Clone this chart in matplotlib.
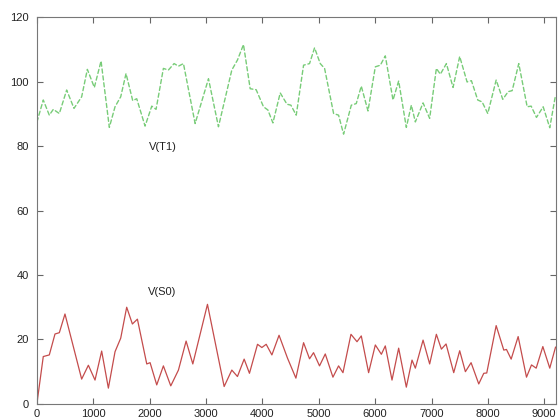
import matplotlib
matplotlib.use("Agg")
import matplotlib.pyplot as plt

# V(T1) (green dashed)
t1_x = [0, 112, 219, 290, 397, 527, 657, 793, 894, 1018, 1137, 1284, 1385, 1486, 1580,
        1699, 1770, 1918, 2037, 2113, 2243, 2332, 2433, 2510, 2599, 2806, 3043, 3220,
        3457, 3557, 3664, 3783, 3889, 4019, 4097, 4186, 4316, 4435, 4505, 4600, 4730,
        4836, 4925, 5026, 5103, 5263, 5351, 5440, 5577, 5665, 5754, 5873, 6003, 6092,
        6180, 6317, 6417, 6553, 6642, 6713, 6850, 6967, 7086, 7157, 7264, 7382, 7500,
        7631, 7708, 7820, 7898, 7998, 8147, 8264, 8360, 8431, 8548, 8697, 8768, 8862,
        8981, 9098, 9200]
t1_y = [87.5, 94.3, 89.6, 91.4, 90.1, 97.4, 91.7, 95.3, 103.8, 98.2, 106.4, 85.8, 92.2,
        95.3, 102.5, 94.1, 94.7, 86.2, 92.4, 91.4, 104.1, 103.6, 105.6, 104.8, 105.6,
        87.0, 100.9, 86.0, 103.6, 106.7, 111.5, 97.8, 97.5, 92.2, 91.2, 87.2, 96.5,
        93.0, 92.7, 89.6, 105.1, 105.6, 110.5, 105.6, 104.1, 90.1, 89.6, 83.7, 92.7,
        93.2, 98.6, 90.9, 104.6, 105.1, 108.0, 94.3, 100.2, 85.8, 92.7, 87.5, 93.4,
        88.6, 104.1, 102.3, 105.6, 98.2, 107.8, 99.9, 100.3, 94.3, 93.7, 90.1, 100.5,
        94.5, 96.9, 97.2, 105.6, 92.2, 92.4, 88.9, 92.2, 85.7, 95.8]

# V(S0) (red solid)
s0_x = [0, 112, 219, 320, 397, 497, 793, 912, 1030, 1148, 1267, 1385, 1486, 1592, 1693,
        1782, 1948, 2007, 2125, 2243, 2374, 2510, 2646, 2765, 3025, 3321, 3457, 3557,
        3676, 3770, 3913, 3990, 4067, 4168, 4295, 4445, 4594, 4730, 4836, 4907, 5013,
        5115, 5251, 5351, 5429, 5571, 5678, 5754, 5884, 6003, 6110, 6180, 6299, 6417,
        6553, 6654, 6713, 6850, 6967, 7086, 7175, 7258, 7394, 7500, 7601, 7702, 7838,
        7927, 7980, 8147, 8282, 8330, 8413, 8537, 8685, 8774, 8857, 8975, 9098, 9200]
s0_y = [0.2, 14.7, 15.2, 21.7, 22.1, 27.9, 7.7, 12.0, 7.4, 16.4, 4.9, 16.2, 20.4, 30.0,
        24.8, 26.3, 12.4, 12.8, 5.9, 11.8, 5.6, 10.5, 19.5, 12.4, 30.9, 5.4, 10.5, 8.5,
        13.9, 9.5, 18.5, 17.5, 18.5, 15.2, 21.3, 14.2, 8.0, 19.0, 14.0, 15.9, 11.8,
        15.5, 8.3, 11.8, 9.7, 21.6, 19.3, 21.1, 9.7, 18.3, 15.4, 18.0, 7.4, 17.3, 5.2,
        13.6, 11.1, 19.8, 12.4, 21.6, 17.0, 18.6, 9.7, 16.5, 10.0, 12.8, 6.2, 9.5, 9.6,
        24.3, 16.7, 16.9, 13.9, 20.9, 8.3, 12.1, 11.1, 17.8, 11.1, 17.6]

labels = ["V(T1)", "V(S0)"]
label_pos = [(2229, 79.7), (2229, 34.8)]
x_ticks = [0, 1000, 2000, 3000, 4000, 5000, 6000, 7000, 8000, 9000]
y_ticks = [0, 20, 40, 60, 80, 100, 120]

plt.rcParams['font.family'] = ['Liberation Sans', 'DejaVu Sans']
fig = plt.figure(figsize=(5.6, 4.19), dpi=100)
ax = fig.add_axes([0.066, 0.036, 0.926, 0.923])

ax.plot(t1_x, t1_y, color='#78cc78', lw=1.0, ls=(0, (3, 2)),
        dash_joinstyle='round', dash_capstyle='round')
ax.plot(s0_x, s0_y, color='#c44c4c', lw=0.9, solid_joinstyle='round')

for lab, (lx, ly) in zip(labels, label_pos):
    ax.text(lx, ly, lab, ha='center', va='center', fontsize=8, color='#222222')

ax.set_xlim(0, 9200)
ax.set_ylim(0, 120)
ax.set_xticks(x_ticks)
ax.set_yticks(y_ticks)
ax.tick_params(direction='in', length=4, width=0.8, color='#666666',
               labelsize=8, labelcolor='#222222', top=True, right=True)
ax.tick_params(axis='y', pad=6)
ax.tick_params(axis='x', pad=4)
for s in ax.spines.values():
    s.set_color('#777777')
    s.set_linewidth(0.8)

fig.savefig('out.png', dpi=100)
